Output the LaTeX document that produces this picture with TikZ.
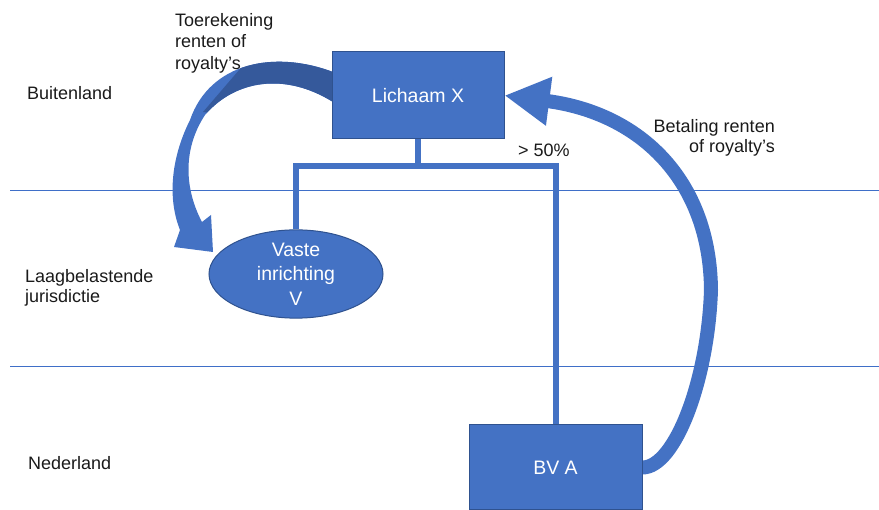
\documentclass[tikz,border=0pt]{standalone}
\usepackage{fontspec}
\setmainfont{Liberation Sans}
\usetikzlibrary{shapes.geometric,arrows.meta}
\definecolor{accent}{HTML}{4472C4}
\definecolor{accentdark}{HTML}{2F528F}
\definecolor{ribbonback}{HTML}{35599B}
\definecolor{rulecol}{HTML}{3F6FC8}
\definecolor{ink}{HTML}{1A1A1A}
\pgfdeclarelayer{bg}
\pgfsetlayers{bg,main}
\tikzset{
  lbl/.style={text=ink, inner sep=0pt, font=\fontsize{18}{21}\selectfont},
  entity/.style={fill=accent, draw=accentdark, line width=1pt, text=white,
    inner sep=0pt, font=\fontsize{19.5}{24.5}\selectfont, align=center},
  owner/.style={draw=accent, line width=6pt},
  flow/.style={draw=accent, line width=14pt},
  zoneline/.style={draw=rulecol, line width=1.1pt},
}
\begin{document}
\begin{tikzpicture}[x=1pt,y=-1pt]
\useasboundingbox (0,0) rectangle (879,510);

% entities
\node[entity, minimum width=172pt, minimum height=87pt] (lx) at (418,95.5) {Lichaam X};
\node[entity, ellipse, minimum width=174pt, minimum height=87pt] (vi) at (296,274) {Vaste\\inrichting\\V};
\node[entity, minimum width=173pt, minimum height=85pt] (bva) at (555.5,467.5) {BV A};

% region labels
\node[lbl, anchor=west] (buit) at (27,93) {Buitenland};
\node[lbl, anchor=west, align=left, font=\fontsize{18}{20}\selectfont] (laag) at (25,288) {Laagbelastende\\jurisdictie};
\node[lbl, anchor=west] (ned) at (28,463) {Nederland};

% annotations
\node[lbl, anchor=west, align=left, font=\fontsize{18}{21.5}\selectfont] (toer) at (175,43) {Toerekening\\renten of\\royalty’s};
\node[lbl, anchor=west] (pct) at (518,150) {> 50\%};
\node[lbl, anchor=east, align=right, font=\fontsize{18}{20}\selectfont] (bet) at (775,138) {Betaling renten\\of royalty’s};

\coordinate (jn) at (418,166);
\coordinate (r1a) at (10,190.5);  \coordinate (r1b) at (879,190.5);
\coordinate (r2a) at (10,366.5);  \coordinate (r2b) at (879,366.5);

\begin{pgfonlayer}{bg}
  % jurisdiction bands
  \draw[zoneline] (r1a) -- (r1b);
  \draw[zoneline] (r2a) -- (r2b);

  % ownership lines
  \draw[owner] (lx.south) -- (jn);
  \draw[owner] (vi.north) |- (jn) -| (bva.north);

  % payment from BV A back to Lichaam X
  \draw[flow, -{Triangle[width=46pt,length=45pt,fill=accent,color=accent]}]
    (bva.east) .. controls (675,467.5) and (708,380) .. (711,290)
    .. controls (710,180) and (640,113) .. (lx.east);

  % attribution ribbon from Lichaam X to the permanent establishment
  \def\ribbon{(333,72) .. controls (275,50) and (210,62) .. (190,120)
    .. controls (170,160) and (168,200) .. (180,230)
    -- (174,247) -- (213,252) -- (211,215) -- (202,222)
    .. controls (185,190) and (182,150) .. (205,115)
    .. controls (235,80) and (285,72) .. (333,102) -- cycle}
  \fill[accent] \ribbon;
  \begin{scope}
    \clip (203,112) -- (252,55) -- (345,40) -- (345,130) -- cycle;
    \fill[ribbonback] \ribbon;
  \end{scope}
\end{pgfonlayer}
\end{tikzpicture}
\end{document}
